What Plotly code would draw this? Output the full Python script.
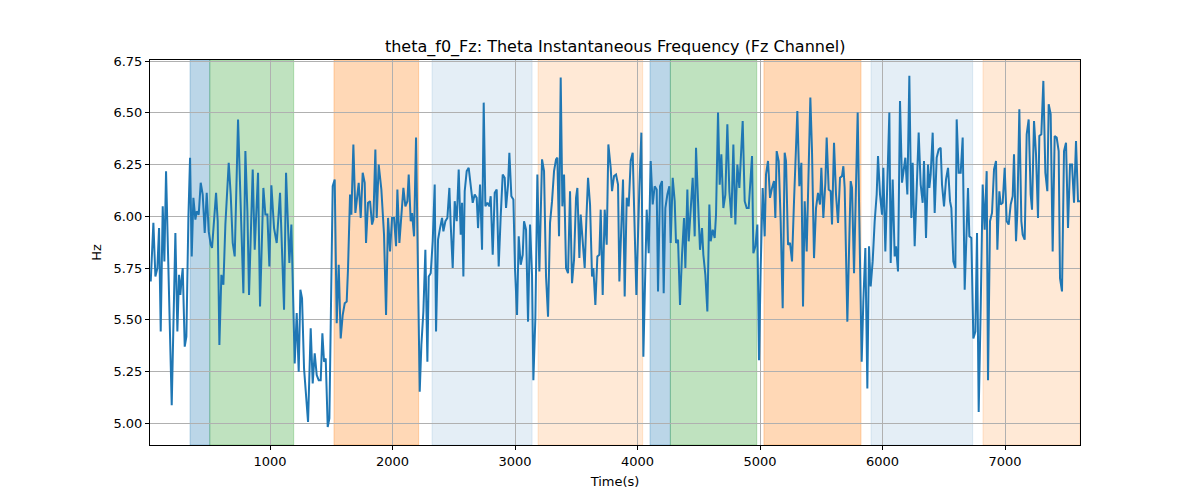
import plotly.graph_objects as go

time_s = [
    26.0, 47.6, 64.0, 80.3, 93.9, 107.5, 123.8, 137.4, 151.0, 172.8, 197.3, 227.2, 243.5, 257.2, 268.0, 276.2,
    287.1, 303.4, 317.0, 333.3, 347.0, 360.6, 374.2, 390.5, 401.4, 417.7, 434.0, 450.3, 466.7, 483.0, 499.3,
    515.7, 526.5, 559.2, 572.8, 586.4, 602.7, 619.1, 635.4, 662.6, 678.9, 695.2, 711.5, 738.8, 760.5, 782.3,
    798.6, 815.0, 828.5, 858.5, 874.8, 902.0, 918.3, 945.6, 961.9, 978.2, 994.5, 1010.9, 1032.6, 1054.4,
    1081.6, 1114.3, 1130.6, 1157.8, 1174.1, 1201.3, 1217.6, 1234.0, 1247.6, 1261.2, 1277.5, 1293.8, 1310.2,
    1331.9, 1348.2, 1364.6, 1380.9, 1397.2, 1413.6, 1427.2, 1440.8, 1454.4, 1470.7, 1484.3, 1511.5, 1527.8,
    1544.2, 1560.5, 1576.8, 1593.1, 1609.5, 1625.8, 1636.7, 1653.0, 1663.9, 1680.2, 1696.5, 1707.4, 1723.7,
    1740.1, 1756.4, 1772.7, 1783.6, 1799.9, 1816.3, 1832.6, 1843.5, 1859.8, 1870.7, 1887.0, 1908.8, 1930.5,
    1947.0, 1963.3, 1979.6, 1995.9, 2012.3, 2028.6, 2039.5, 2055.8, 2072.1, 2088.5, 2104.8, 2121.1, 2132.0,
    2148.3, 2159.2, 2175.5, 2191.8, 2208.2, 2221.8, 2235.4, 2251.7, 2268.0, 2284.4, 2295.2, 2311.6, 2327.9,
    2344.2, 2355.1, 2371.4, 2387.7, 2404.1, 2415.0, 2431.3, 2447.6, 2463.9, 2474.8, 2491.1, 2507.5, 2523.8,
    2540.1, 2556.5, 2567.3, 2578.2, 2589.1, 2605.4, 2621.7, 2638.1, 2654.4, 2670.7, 2687.1, 2697.9, 2714.3,
    2730.6, 2744.2, 2757.8, 2774.1, 2790.4, 2801.3, 2817.7, 2834.0, 2850.3, 2866.6, 2883.0, 2899.3, 2915.6,
    2926.5, 2942.8, 2953.7, 2970.0, 2986.4, 3000.0, 3016.3, 3029.9, 3046.2, 3062.6, 3073.4, 3089.8, 3106.1,
    3122.4, 3138.7, 3149.6, 3165.9, 3182.3, 3198.6, 3220.4, 3236.7, 3253.0, 3269.3, 3285.7, 3302.0, 3318.3,
    3334.6, 3345.5, 3359.1, 3372.7, 3386.3, 3400.0, 3416.3, 3432.6, 3448.9, 3465.2, 3481.6, 3497.9, 3508.8,
    3525.1, 3536.0, 3552.3, 3568.6, 3582.2, 3595.8, 3612.2, 3628.5, 3639.4, 3655.7, 3672.0, 3688.4, 3699.3,
    3715.6, 3731.9, 3748.2, 3761.8, 3780.9, 3791.8, 3808.1, 3824.4, 3840.7, 3851.6, 3867.9, 3881.5, 3895.1,
    3911.5, 3927.8, 3944.1, 3960.4, 3976.8, 3990.4, 4014.9, 4031.2, 4047.5, 4074.7, 4091.0, 4107.4, 4123.7,
    4140.0, 4156.4, 4167.2, 4183.6, 4199.9, 4213.5, 4227.1, 4243.4, 4259.8, 4270.6, 4287.0, 4303.3, 4314.2,
    4330.5, 4346.8, 4363.2, 4379.5, 4390.4, 4406.7, 4417.6, 4433.9, 4450.2, 4466.6, 4477.4, 4499.2, 4510.1,
    4526.4, 4537.3, 4553.6, 4570.0, 4586.3, 4597.2, 4613.5, 4629.8, 4640.7, 4657.0, 4670.6, 4684.2, 4700.6,
    4716.9, 4733.2, 4749.5, 4765.9, 4782.2, 4798.5, 4814.8, 4831.2, 4858.4, 4874.7, 4891.0, 4907.4, 4918.2,
    4934.6, 4945.4, 4961.8, 4978.1, 4991.7, 5005.3, 5021.6, 5037.9, 5048.8, 5065.2, 5081.5, 5097.8, 5114.1,
    5125.0, 5135.9, 5152.2, 5168.5, 5184.9, 5201.2, 5212.1, 5228.4, 5244.7, 5261.1, 5277.4, 5288.3, 5304.6,
    5320.9, 5337.3, 5350.8, 5364.5, 5380.8, 5397.1, 5410.7, 5424.3, 5440.6, 5457.0, 5473.3, 5489.6, 5500.5,
    5516.8, 5533.2, 5544.0, 5560.4, 5576.7, 5587.6, 5603.9, 5620.2, 5636.6, 5652.9, 5669.2, 5680.1, 5691.0,
    5712.8, 5740.0, 5750.8, 5767.2, 5797.1, 5810.7, 5829.7, 5843.3, 5859.7, 5876.0, 5889.6, 5903.2, 5919.5,
    5935.9, 5952.2, 5963.1, 5979.4, 5995.7, 6006.6, 6022.9, 6039.3, 6055.6, 6066.5, 6082.8, 6099.1, 6110.0,
    6126.3, 6142.7, 6159.0, 6175.3, 6186.2, 6202.5, 6218.8, 6235.2, 6246.1, 6262.4, 6278.7, 6295.0, 6311.4,
    6327.7, 6338.6, 6354.9, 6371.2, 6382.2, 6393.1, 6409.4, 6425.7, 6442.0, 6458.4, 6474.7, 6485.6, 6501.9,
    6518.2, 6534.6, 6550.9, 6561.8, 6578.1, 6594.4, 6605.3, 6621.6, 6638.0, 6654.3, 6670.6, 6697.8, 6708.7,
    6725.0, 6741.4, 6757.7, 6771.3, 6784.9, 6801.2, 6817.5, 6833.9, 6850.2, 6861.1, 6877.4, 6893.7, 6910.1,
    6926.4, 6937.3, 6953.6, 6964.5, 6980.8, 6997.1, 7013.5, 7029.8, 7046.1, 7062.4, 7073.3, 7089.6, 7100.5,
    7116.8, 7133.2, 7144.1, 7160.4, 7176.7, 7193.0, 7209.4, 7220.2, 7236.6, 7252.9, 7269.2, 7280.1, 7296.4,
    7312.8, 7329.1, 7345.4, 7356.3, 7372.6, 7388.9, 7405.3, 7421.6, 7437.9, 7448.8, 7465.1, 7481.5, 7497.8,
    7514.1, 7530.5, 7546.8, 7563.1, 7579.4, 7595.8, 7612.1,
]

freq_hz = [
    5.685, 5.968, 5.709, 5.750, 5.943, 5.443, 6.048, 5.782, 6.218, 5.653, 5.087, 5.919, 5.443, 5.717, 5.620, 5.685,
    5.750, 5.370, 5.418, 5.992, 6.283, 5.806, 6.089, 5.984, 6.024, 6.008, 6.162, 6.105, 5.919, 6.113, 5.927,
    5.863, 5.847, 6.113, 5.976, 5.378, 5.717, 5.669, 5.960, 6.258, 6.105, 5.871, 5.806, 6.468, 6.008, 5.628,
    6.315, 6.024, 5.620, 6.226, 5.838, 6.210, 5.564, 6.137, 6.008, 6.008, 5.758, 6.150, 5.943, 5.871,
    6.113, 5.548, 6.210, 5.774, 5.960, 5.289, 5.532, 5.249, 5.645, 5.604, 5.265, 5.152, 5.006,
    5.459, 5.192, 5.338, 5.233, 5.208, 5.208, 5.435, 5.297, 5.313, 4.982, 5.023, 6.145, 6.178,
    5.483, 5.766, 5.410, 5.523, 5.580, 5.588, 5.750, 6.105, 6.008, 6.347, 6.016, 6.073, 6.162,
    5.992, 6.210, 6.162, 5.871, 6.065, 6.073, 5.960, 5.984, 6.323, 5.992, 6.250, 6.129, 5.911,
    5.523, 5.992, 5.830, 5.992, 5.992, 5.855, 6.129, 5.871, 6.016, 6.137, 6.048, 6.073, 6.202,
    5.976, 6.016, 5.903, 6.380, 5.750, 5.152, 5.378, 5.540, 5.838, 5.297, 5.709, 5.725, 5.879,
    6.153, 5.443, 5.887, 5.943, 5.992, 5.927, 5.976, 5.992, 6.137, 5.960, 5.750, 6.073, 5.976,
    6.226, 5.911, 6.065, 5.709, 6.121, 6.218, 6.234, 6.137, 6.065, 6.105, 6.089, 5.943, 6.153,
    5.838, 6.549, 6.048, 6.065, 6.048, 6.097, 5.814, 6.113, 6.129, 5.758, 6.000, 6.202, 6.186,
    6.040, 6.153, 6.307, 6.097, 6.081, 5.742, 5.523, 5.903, 5.766, 5.814, 5.976, 5.935, 5.491,
    5.960, 5.717, 5.208, 5.507, 6.202, 5.733, 6.275, 6.218, 5.709, 5.515, 5.968, 6.073, 6.218,
    6.275, 6.283, 5.903, 6.670, 6.048, 6.202, 5.750, 5.725, 6.121, 5.677, 5.790, 6.089, 6.137,
    5.798, 6.008, 5.879, 5.750, 5.984, 6.186, 6.057, 5.709, 5.750, 5.572, 5.806, 5.814, 6.032,
    5.620, 6.032, 5.863, 6.347, 6.234, 6.121, 6.194, 6.202, 6.153, 5.685, 5.943, 6.178, 5.612,
    6.089, 6.048, 6.267, 6.307, 5.943, 5.620, 6.137, 6.404, 5.321, 6.032, 5.822, 6.267, 6.057,
    6.145, 6.129, 5.637, 6.145, 6.170, 5.628, 6.040, 6.105, 6.145, 5.871, 6.186, 6.073, 5.871,
    5.887, 5.572, 5.814, 5.992, 5.750, 6.129, 5.879, 6.024, 6.186, 5.903, 6.331, 5.992, 5.838,
    5.943, 5.814, 5.717, 5.540, 6.057, 5.879, 5.935, 5.895, 6.008, 6.501, 6.153, 6.299, 6.040,
    6.105, 6.444, 6.121, 5.992, 6.347, 5.960, 6.250, 6.137, 6.460, 6.073, 6.040, 6.040, 6.153,
    6.291, 5.822, 5.855, 5.960, 5.305, 5.750, 6.137, 5.903, 6.202, 6.267, 6.089, 6.137, 6.170,
    5.992, 6.315, 6.267, 5.976, 5.556, 6.307, 6.267, 5.863, 5.871, 5.782, 6.073, 6.283, 6.509,
    6.145, 6.258, 5.564, 6.073, 5.830, 6.250, 6.574, 6.315, 5.798, 6.040, 6.113, 6.057, 6.234,
    5.992, 6.162, 6.380, 6.129, 6.121, 5.960, 6.355, 6.105, 5.968, 6.186, 6.194, 6.242, 6.137,
    5.491, 6.170, 6.137, 5.725, 6.501, 5.976, 5.297, 5.588, 5.847, 5.168, 5.855, 5.661, 5.782,
    5.976, 6.105, 6.291, 6.105, 6.008, 6.234, 5.830, 6.186, 6.501, 5.774, 6.178, 5.806, 5.855,
    5.733, 6.557, 6.162, 6.250, 6.283, 6.105, 6.679, 5.992, 6.258, 5.855, 6.137, 6.404, 6.153,
    6.065, 6.267, 5.895, 6.250, 6.137, 6.202, 6.404, 6.016, 6.283, 6.323, 6.331, 6.153, 6.048,
    6.178, 6.234, 6.073, 6.040, 5.782, 5.750, 6.468, 6.210, 6.210, 6.380, 5.645, 6.137, 5.903,
    5.895, 5.410, 5.443, 5.919, 5.055, 5.548, 6.153, 5.935, 6.218, 5.208, 5.976, 6.016, 6.226,
    6.267, 5.838, 6.121, 6.057, 6.065, 6.234, 5.976, 5.960, 6.057, 6.097, 6.299, 5.879, 6.016,
    6.517, 5.976, 5.911, 5.887, 6.396, 6.468, 6.105, 6.032, 6.460, 6.299, 5.992, 6.388, 6.396,
    6.654, 6.210, 6.121, 6.541, 6.493, 5.830, 6.388, 6.380, 6.315, 5.701, 5.637, 6.315, 6.355,
    5.943, 6.250, 6.250, 6.065, 6.364, 6.073, 6.073,
]

# shaded epochs: start, end, colour
band_start = [347, 508, 1522, 2322, 3188, 4102, 4268, 5032, 5906, 6820]
band_end = [508, 1193, 2213, 3139, 4042, 4268, 4973, 5824, 6736, 7612]
band_color = [
    "rgba(31,119,180,0.3)", "rgba(44,160,44,0.3)", "rgba(255,127,14,0.3)", "rgba(31,119,180,0.12)",
    "rgba(255,127,14,0.17)", "rgba(31,119,180,0.3)", "rgba(44,160,44,0.3)", "rgba(255,127,14,0.3)",
    "rgba(31,119,180,0.12)", "rgba(255,127,14,0.17)",
]

x_ticks = [1000, 2000, 3000, 4000, 5000, 6000, 7000]
y_ticks = [5.00, 5.25, 5.50, 5.75, 6.00, 6.25, 6.50, 6.75]

fig = go.Figure()
for s, e, c in zip(band_start, band_end, band_color):
    fig.add_vrect(x0=s, x1=e, fillcolor=c, line=dict(color=c, width=1), layer="below")

fig.add_trace(go.Scatter(x=time_s, y=freq_hz, mode="lines",
                         line=dict(color="#1f77b4", width=2), showlegend=False))

font = "DejaVu Sans, Arial, sans-serif"
fig.update_layout(
    width=1200, height=500,
    margin=dict(l=142, r=128, t=52, b=63),
    plot_bgcolor="white", paper_bgcolor="white",
    font=dict(family=font, size=13, color="black"),
    title=dict(text="theta_f0_Fz: Theta Instantaneous Frequency (Fz Channel)",
               x=0.506, xanchor="center", xref="container", y=0.924, yanchor="middle", yref="container",
               font=dict(size=16, color="black", family=font)),
)
fig.update_xaxes(
    range=[20, 7612], tickvals=x_ticks, ticktext=[str(v) for v in x_ticks],
    showgrid=True, gridcolor="#b0b0b0", gridwidth=1,
    showline=True, linecolor="black", linewidth=1, mirror=True,
    ticks="outside", ticklen=4, tickcolor="black", zeroline=False,
    title=dict(text="Time(s)", font=dict(size=13), standoff=9),
)
fig.update_yaxes(
    range=[4.895, 6.755], tickvals=y_ticks, ticktext=[f"{v:.2f}" for v in y_ticks],
    showgrid=True, gridcolor="#b0b0b0", gridwidth=1,
    showline=True, linecolor="black", linewidth=1, mirror=True,
    ticks="outside", ticklen=4, tickcolor="black", zeroline=False,
    title=dict(text="Hz", font=dict(size=13), standoff=8),
)

fig.write_html("out.html")
